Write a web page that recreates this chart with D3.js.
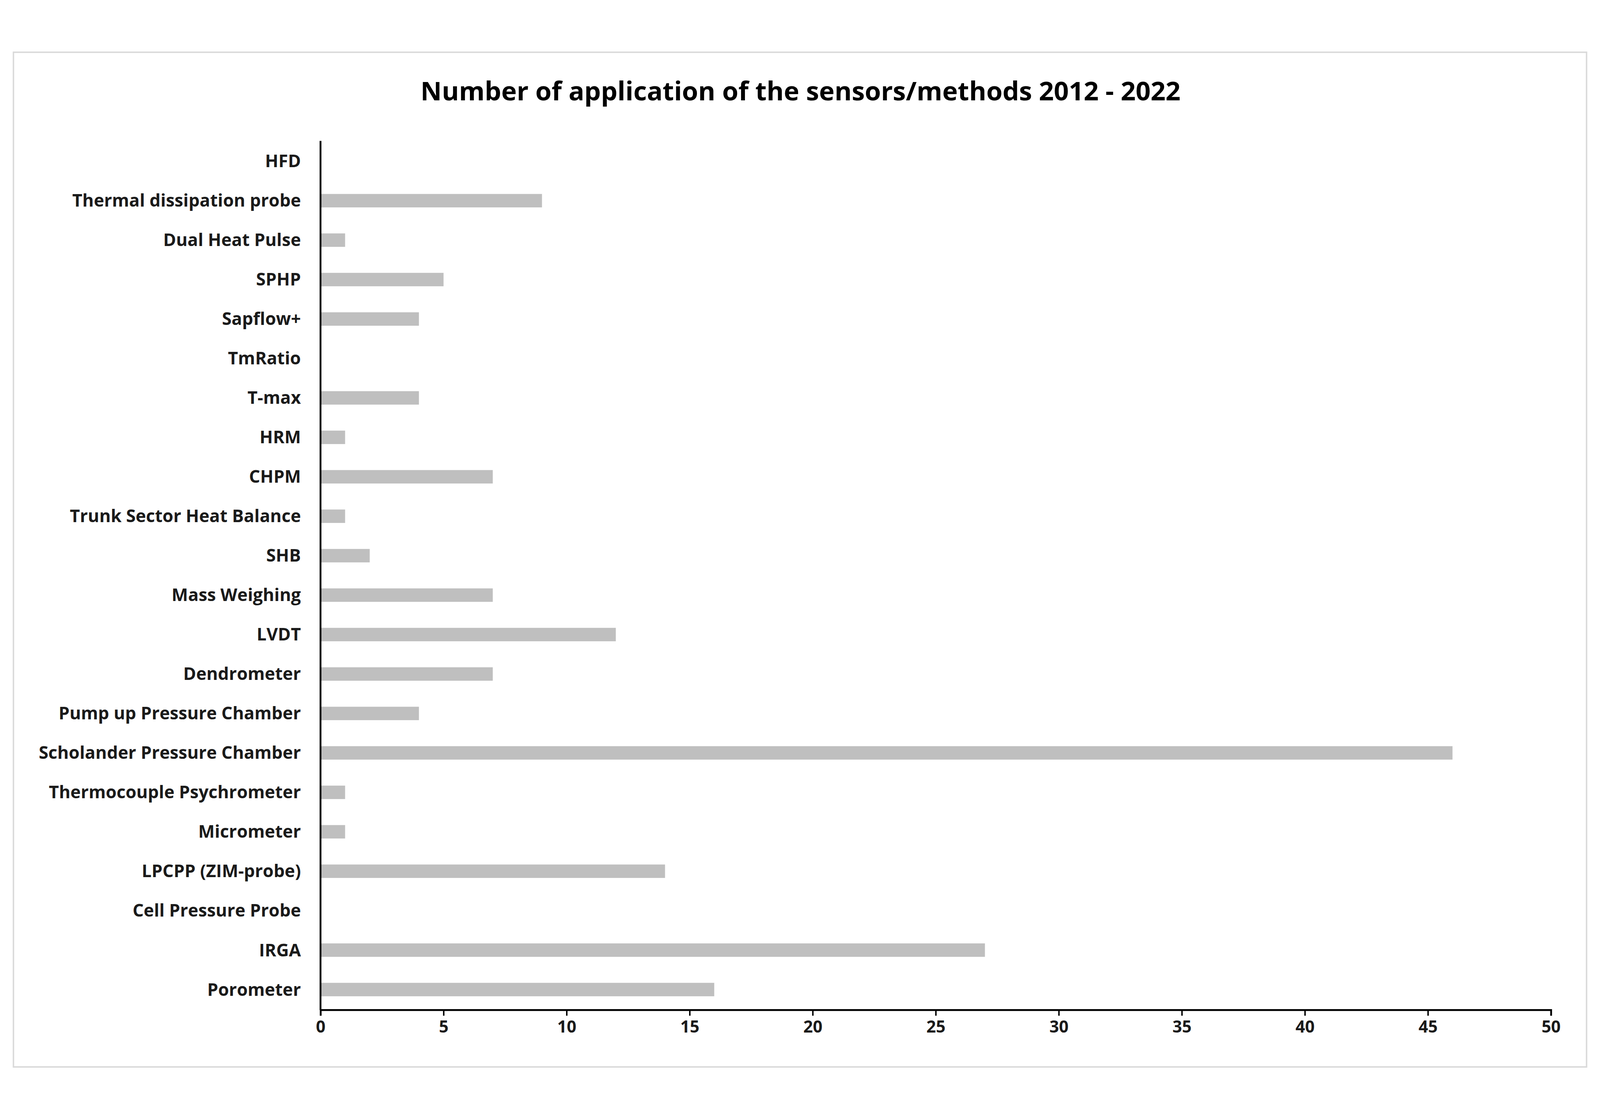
<!DOCTYPE html>
<html><head><meta charset="utf-8">
<script src="https://cdn.jsdelivr.net/npm/d3@7"></script>
<style>html,body{margin:0;padding:0;background:#fff;overflow:hidden}svg{display:block;width:100vw;height:100vh}</style></head>
<body><svg id="c" viewBox="0 0 4403 2850" preserveAspectRatio="xMidYMid meet"></svg>
<script>
const categories=["HFD","Thermal dissipation probe","Dual Heat Pulse","SPHP","Sapflow+","TmRatio","T-max","HRM","CHPM","Trunk Sector Heat Balance","SHB","Mass Weighing","LVDT","Dendrometer","Pump up Pressure Chamber","Scholander Pressure Chamber","Thermocouple Psychrometer","Micrometer","LPCPP (ZIM-probe)","Cell Pressure Probe","IRGA","Porometer"];
const values=[0,9,1,5,4,0,4,1,7,1,2,7,12,7,4,46,1,1,14,0,27,16];
const ticks=[0,5,10,15,20,25,30,35,40,45,50];
const title="Number of application of the sensors/methods 2012 - 2022";
const svg=d3.select("#c");
const font="'Open Sans', 'Liberation Sans', sans-serif";
svg.append("rect").attr("x",37).attr("y",37).attr("width",4329).attr("height",2793).attr("fill","#fff").attr("stroke","#d9d9d9").attr("stroke-width",4);
svg.append("text").attr("x",2203).attr("y",170).attr("text-anchor","middle").attr("font-family",font).attr("font-weight","bold").attr("font-size",72).attr("fill","#000").text(title);
const x=d3.scaleLinear().domain([0,50]).range([882,4268]);
const y=d3.scalePoint().domain(categories).range([337,2617]);
const bh=37;
svg.selectAll(".bar").data(categories).enter().append("rect").attr("x",x(0)).attr("y",d=>y(d)-bh/2).attr("width",(d,i)=>x(values[i])-x(0)).attr("height",bh).attr("fill","#bfbfbf");
svg.selectAll(".lab").data(categories).enter().append("text").attr("x",828).attr("y",d=>y(d)).attr("dy","0.35em").attr("text-anchor","end").attr("font-family",font).attr("font-weight","bold").attr("font-size",48).attr("fill","#1a1a1a").text(d=>d);
const xa=svg.append("g").attr("transform","translate(0,2673)").call(d3.axisBottom(x).tickValues(ticks).tickSize(16).tickPadding(14));
xa.select(".domain").attr("stroke","#000").attr("stroke-width",5);
xa.selectAll(".tick line").attr("stroke","#000").attr("stroke-width",4);
xa.selectAll("text").attr("font-family",font).attr("font-weight","bold").attr("font-size",46).attr("fill","#1a1a1a");
svg.append("line").attr("x1",x(0)).attr("x2",x(0)).attr("y1",281).attr("y2",2673).attr("stroke","#000").attr("stroke-width",5);
</script></body></html>
